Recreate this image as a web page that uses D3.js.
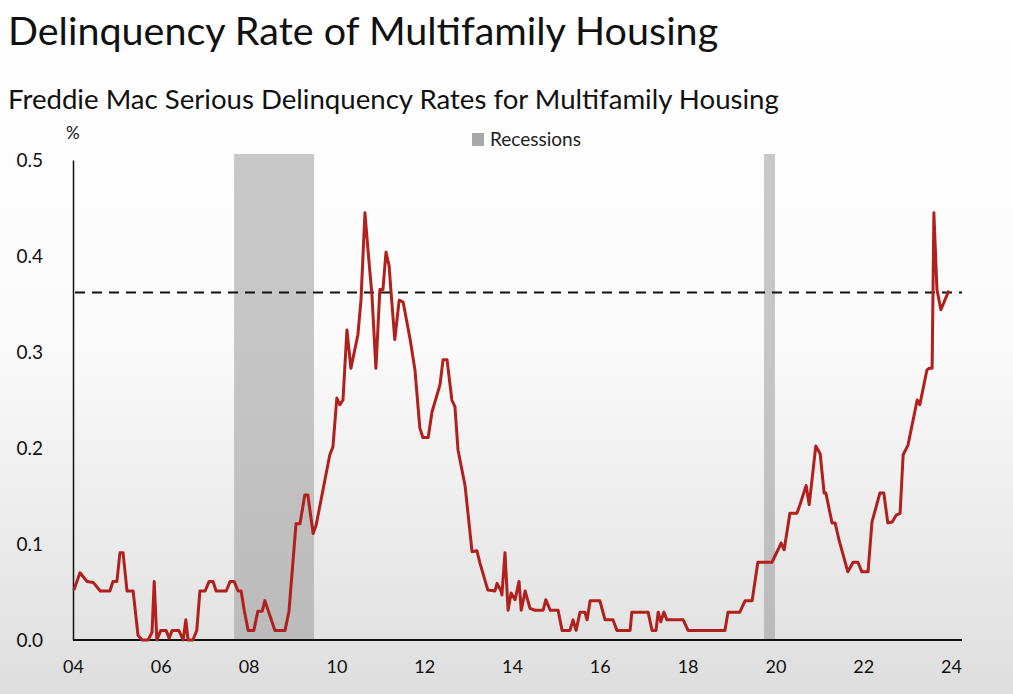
<!DOCTYPE html>
<meta charset="utf-8">
<html>
<head>
<script src="https://cdn.jsdelivr.net/npm/d3@7"></script>
<style>
  body { margin: 0; background: #fff; }
  text { font-family: Lato, "Open Sans", sans-serif; }
</style>
</head>
<body>
<div id="chart"></div>
<script type="text/javascript">
    // years after 2004 and delinquency rate (%)
    var yrs = [0.02,0.16,0.32,0.46,0.62,0.84,0.91,1.0,1.07,1.14,1.23,1.37,1.48,1.57,1.71,1.80,1.85,1.91,2.0,2.12,2.19,2.26,2.41,2.51,2.57,2.62,2.73,2.82,2.89,3.01,3.10,3.19,3.26,3.49,3.58,3.67,3.76,3.83,3.90,3.99,4.12,4.21,4.31,4.37,4.60,4.83,4.92,5.08,5.17,5.28,5.35,5.47,5.54,5.85,5.92,6.01,6.08,6.15,6.24,6.33,6.49,6.56,6.65,6.72,6.81,6.90,6.99,7.06,7.13,7.20,7.24,7.33,7.43,7.52,7.68,7.79,7.90,7.97,8.09,8.18,8.29,8.36,8.43,8.52,8.63,8.70,8.77,8.93,9.09,9.20,9.27,9.45,9.61,9.66,9.75,9.77,9.84,9.91,9.98,10.07,10.16,10.21,10.30,10.41,10.52,10.71,10.77,10.87,11.05,11.14,11.32,11.39,11.46,11.55,11.66,11.71,11.78,12.0,12.12,12.30,12.39,12.69,12.73,13.10,13.19,13.28,13.33,13.39,13.46,13.53,13.90,14.01,14.85,14.92,15.19,15.31,15.47,15.60,15.92,16.06,16.13,16.20,16.33,16.49,16.56,16.70,16.77,16.92,17.02,17.11,17.15,17.29,17.36,17.45,17.65,17.77,17.88,17.97,18.11,18.20,18.38,18.47,18.56,18.66,18.75,18.84,18.91,19.02,19.23,19.29,19.45,19.50,19.57,19.61,19.68,19.77,19.95];
    var vals = [0.052,0.07,0.061,0.06,0.051,0.051,0.061,0.061,0.091,0.091,0.051,0.051,0.005,0,0,0.008,0.061,0,0.01,0.01,0.002,0.01,0.01,0,0.021,0,0,0.01,0.051,0.051,0.061,0.061,0.051,0.051,0.061,0.061,0.051,0.051,0.031,0.01,0.01,0.03,0.03,0.041,0.01,0.01,0.03,0.121,0.121,0.151,0.151,0.111,0.12,0.193,0.201,0.252,0.245,0.25,0.323,0.283,0.318,0.354,0.445,0.406,0.359,0.283,0.365,0.365,0.404,0.39,0.365,0.313,0.354,0.352,0.313,0.281,0.221,0.211,0.211,0.238,0.255,0.266,0.292,0.292,0.25,0.243,0.198,0.161,0.092,0.093,0.08,0.052,0.051,0.059,0.051,0.047,0.091,0.031,0.049,0.042,0.061,0.031,0.051,0.033,0.031,0.031,0.042,0.031,0.031,0.01,0.01,0.021,0.01,0.029,0.029,0.021,0.041,0.041,0.021,0.021,0.01,0.01,0.029,0.029,0.01,0.01,0.029,0.019,0.029,0.021,0.021,0.01,0.01,0.029,0.029,0.041,0.041,0.081,0.081,0.094,0.101,0.094,0.132,0.132,0.141,0.161,0.141,0.202,0.194,0.153,0.153,0.122,0.122,0.104,0.071,0.081,0.081,0.071,0.071,0.123,0.153,0.153,0.122,0.123,0.13,0.132,0.193,0.203,0.25,0.245,0.281,0.283,0.283,0.445,0.365,0.344,0.364];
    var yTicks = [0, 0.1, 0.2, 0.3, 0.4, 0.5];
    var xTicks = [2004, 2006, 2008, 2010, 2012, 2014, 2016, 2018, 2020, 2022, 2024];
    var recessions = [[2007.67, 2009.49], [2019.74, 2019.99]];
    var avgLine = 0.362;

    var width = 1013, height = 694;
    var svg = d3.select("#chart").append("svg")
        .attr("width", width).attr("height", height);

    // soft white-to-grey background like the slide
    var grad = svg.append("defs").append("linearGradient")
        .attr("id", "bg").attr("x1", 0).attr("x2", 0).attr("y1", 0).attr("y2", 1);
    grad.append("stop").attr("offset", "0%").attr("stop-color", "#ffffff");
    grad.append("stop").attr("offset", "48%").attr("stop-color", "#fbfbfb");
    grad.append("stop").attr("offset", "100%").attr("stop-color", "#dedede");
    svg.append("rect").attr("width", width).attr("height", height).attr("fill", "url(#bg)");

    var x = d3.scaleLinear().domain([2004, 2024]).range([73, 951]);
    var y = d3.scaleLinear().domain([0, 0.5]).range([640, 160]);

    svg.append("text").attr("x", 8).attr("y", 45)
        .attr("font-size", 39.5).attr("fill", "#111")
        .text("Delinquency Rate of Multifamily Housing");
    svg.append("text").attr("x", 8).attr("y", 109)
        .attr("font-size", 27.6).attr("fill", "#111")
        .text("Freddie Mac Serious Delinquency Rates for Multifamily Housing");

    // recession bands
    svg.selectAll(".rec").data(recessions).enter().append("rect")
        .attr("x", function(d) { return x(d[0]); })
        .attr("width", function(d) { return x(d[1]) - x(d[0]); })
        .attr("y", y(0.5) - 6).attr("height", y(0) - y(0.5) + 6)
        .attr("fill", "#9a9a9a").attr("opacity", 0.55);

    // legend
    svg.append("rect").attr("x", 472).attr("y", 133).attr("width", 12).attr("height", 13).attr("fill", "#a8a8a8");
    svg.append("text").attr("x", 490).attr("y", 146).attr("font-size", 19).attr("fill", "#222").text("Recessions");

    // y axis
    var yAxis = svg.append("g").attr("transform", "translate(73,0)")
        .call(d3.axisLeft(y).tickValues(yTicks).tickSize(0).tickPadding(30).tickFormat(d3.format(".1f")));
    yAxis.select(".domain").attr("stroke", "#111").attr("stroke-width", 1.5);
    yAxis.selectAll("text").attr("font-size", 19).attr("fill", "#111").style("font-family", "Lato, sans-serif");
    svg.append("text").attr("x", 66).attr("y", 139).attr("font-size", 17).attr("fill", "#111").text("%");

    // x axis
    var xAxis = svg.append("g").attr("transform", "translate(0,640)")
        .call(d3.axisBottom(x).tickValues(xTicks).tickSize(0).tickPadding(20)
            .tickFormat(function(d) { return d3.format("02d")(d % 100); }));
    xAxis.select(".domain").attr("d", "M73,0H962").attr("stroke", "#111").attr("stroke-width", 2);
    xAxis.selectAll("text").attr("font-size", 18).attr("fill", "#111").style("font-family", "Lato, sans-serif");

    // long-run reference line
    svg.append("line").attr("x1", 75).attr("x2", 962)
        .attr("y1", y(avgLine)).attr("y2", y(avgLine))
        .attr("stroke", "#111").attr("stroke-width", 2.2).attr("stroke-dasharray", "10,7");

    var pts = yrs.map(function(t, i) { return [2004 + t, vals[i]]; });
    svg.append("path").datum(pts)
        .attr("fill", "none").attr("stroke", "#b0201c").attr("stroke-width", 3)
        .attr("stroke-linejoin", "round")
        .attr("d", d3.line().x(function(d) { return x(d[0]); }).y(function(d) { return y(d[1]); }));
</script>
</body>
</html>
